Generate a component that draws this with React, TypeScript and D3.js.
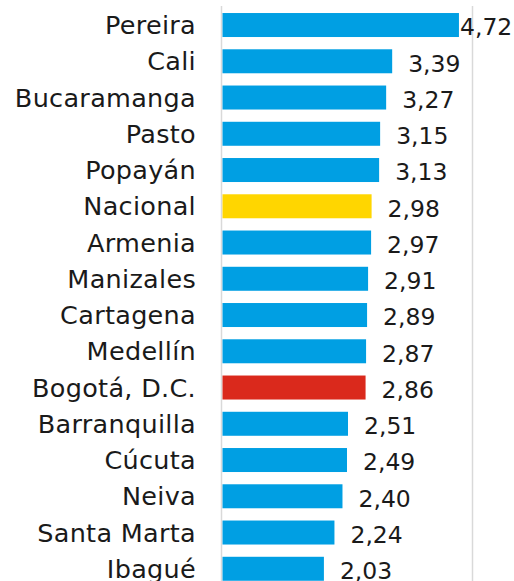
import React from "react";
import * as d3 from "d3";

const categories = ["Pereira","Cali","Bucaramanga","Pasto","Popayán","Nacional","Armenia","Manizales","Cartagena","Medellín","Bogotá, D.C.","Barranquilla","Cúcuta","Neiva","Santa Marta","Ibagué"];
const values = [4.72,3.39,3.27,3.15,3.13,2.98,2.97,2.91,2.89,2.87,2.86,2.51,2.49,2.40,2.24,2.03];
const highlight: Record<string, string> = { "Nacional": "#FFD600", "Bogotá, D.C.": "#DA291C" };
const xTicks = [0, 5];

const W = 514, H = 581;

export default function App() {
  const x = d3.scaleLinear().domain([0, 5]).range([222, 473]);
  const y = d3.scaleBand<string>().domain(categories).range([6.9, 6.9 + 16 * 36.25]).paddingInner(0.338).paddingOuter(0.169);
  const fmt = (v: number) => v.toFixed(2).replace(".", ",");
  return (
    <div style={{ position: "absolute", left: 0, top: 0 }}>
      <svg width={W} height={H} style={{ display: "block" }} fontFamily="'DejaVu Sans', sans-serif">
        <rect width={W} height={H} fill="#fff" />
        {xTicks.map((t) => (
          <line key={t} x1={x(t) - 0.5} x2={x(t) - 0.5} y1={6} y2={H} stroke="#d9d9d9" strokeWidth={1.5} />
        ))}
        {categories.map((c, i) => {
          const yy = y(c)!;
          const bw = y.bandwidth();
          const xe = x(values[i]);
          const lx = Math.min(xe + 16, 460);
          return (
            <g key={c}>
              <rect x={x(0) + 0.5} y={yy} width={xe - x(0) - 0.5} height={bw} fill={highlight[c] || "#009FE3"} />
              <text x={196} y={yy + bw / 2} dy="0.36em" textAnchor="end" fontSize={25.5} letterSpacing={0.3} fill="#1a1a1a">{c}</text>
              <text x={lx} y={yy + bw / 2 + 2} dy="0.36em" fontSize={23.5} fill="#1a1a1a">{fmt(values[i])}</text>
            </g>
          );
        })}
      </svg>
    </div>
  );
}
